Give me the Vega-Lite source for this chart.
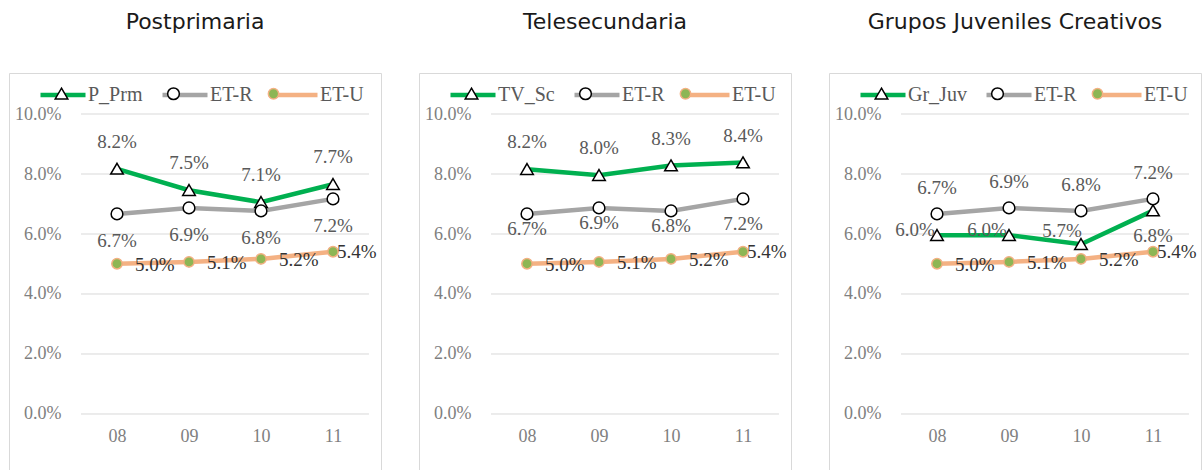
{
  "$schema": "https://vega.github.io/schema/vega-lite/v6.json",
  "background": "white",
  "padding": {"left": 8, "top": 10, "right": 0, "bottom": 0},
  "spacing": 36,
  "config": {
    "view": {"stroke": "#d9d9d9", "strokeWidth": 1},
    "font": "Liberation Serif",
    "title": {"font": "DejaVu Sans", "fontSize": 22, "fontWeight": "normal", "color": "#1a1a1a", "anchor": "middle", "frame": "group", "offset": 36},
    "axis": {"labelFont": "Liberation Serif", "labelFontSize": 18, "labelColor": "#7f7f7f", "grid": false, "domain": false, "ticks": false, "tickSize": 0}
  },
  "datasets": {
    "grid": [{"v": 0}, {"v": 0.02}, {"v": 0.04}, {"v": 0.06}, {"v": 0.08}, {"v": 0.1}],
    "d": [
      {"p": "P", "s": "P_Prm", "f": "P_Prm", "k": "A", "x": 8, "v": 0.0817},
      {"p": "P", "s": "P_Prm", "f": "P_Prm", "k": "A", "x": 9, "v": 0.0746},
      {"p": "P", "s": "P_Prm", "f": "P_Prm", "k": "A", "x": 10, "v": 0.0706},
      {"p": "P", "s": "P_Prm", "f": "P_Prm", "k": "A", "x": 11, "v": 0.0766},
      {"p": "P", "s": "ET-R", "f": "ET-R", "k": "B", "x": 8, "v": 0.0667},
      {"p": "P", "s": "ET-R", "f": "ET-R", "k": "B", "x": 9, "v": 0.0687},
      {"p": "P", "s": "ET-R", "f": "ET-R", "k": "B", "x": 10, "v": 0.0677},
      {"p": "P", "s": "ET-R", "f": "ET-R", "k": "B", "x": 11, "v": 0.0717},
      {"p": "P", "s": "ET-U", "f": "ET-U", "k": "C", "x": 8, "v": 0.0501},
      {"p": "P", "s": "ET-U", "f": "ET-U", "k": "C", "x": 9, "v": 0.0507},
      {"p": "P", "s": "ET-U", "f": "ET-U", "k": "C", "x": 10, "v": 0.0517},
      {"p": "P", "s": "ET-U", "f": "ET-U", "k": "C", "x": 11, "v": 0.0541},
      {"p": "T", "s": "TV_Sc", "f": "TV_Sc", "k": "A", "x": 8, "v": 0.0816},
      {"p": "T", "s": "TV_Sc", "f": "TV_Sc", "k": "A", "x": 9, "v": 0.0796},
      {"p": "T", "s": "TV_Sc", "f": "TV_Sc", "k": "A", "x": 10, "v": 0.0828},
      {"p": "T", "s": "TV_Sc", "f": "TV_Sc", "k": "A", "x": 11, "v": 0.0838},
      {"p": "T", "s": "ET-R", "f": "ET-R", "k": "B", "x": 8, "v": 0.0667},
      {"p": "T", "s": "ET-R", "f": "ET-R", "k": "B", "x": 9, "v": 0.0687},
      {"p": "T", "s": "ET-R", "f": "ET-R", "k": "B", "x": 10, "v": 0.0677},
      {"p": "T", "s": "ET-R", "f": "ET-R", "k": "B", "x": 11, "v": 0.0717},
      {"p": "T", "s": "ET-U", "f": "ET-U", "k": "C", "x": 8, "v": 0.0501},
      {"p": "T", "s": "ET-U", "f": "ET-U", "k": "C", "x": 9, "v": 0.0507},
      {"p": "T", "s": "ET-U", "f": "ET-U", "k": "C", "x": 10, "v": 0.0517},
      {"p": "T", "s": "ET-U", "f": "ET-U", "k": "C", "x": 11, "v": 0.0541},
      {"p": "G", "s": "Gr_Juv", "f": "Gr_Juv", "k": "A", "x": 8, "v": 0.0596},
      {"p": "G", "s": "Gr_Juv", "f": "Gr_Juv", "k": "A", "x": 9, "v": 0.0596},
      {"p": "G", "s": "Gr_Juv", "f": "Gr_Juv", "k": "A", "x": 10, "v": 0.0566},
      {"p": "G", "s": "Gr_Juv", "f": "Gr_Juv", "k": "A", "x": 11, "v": 0.0678},
      {"p": "G", "s": "ET-R", "f": "ET-R", "k": "B", "x": 8, "v": 0.0667},
      {"p": "G", "s": "ET-R", "f": "ET-R", "k": "B", "x": 9, "v": 0.0687},
      {"p": "G", "s": "ET-R", "f": "ET-R", "k": "B", "x": 10, "v": 0.0677},
      {"p": "G", "s": "ET-R", "f": "ET-R", "k": "B", "x": 11, "v": 0.0717},
      {"p": "G", "s": "ET-U", "f": "ET-U", "k": "C", "x": 8, "v": 0.0501},
      {"p": "G", "s": "ET-U", "f": "ET-U", "k": "C", "x": 9, "v": 0.0507},
      {"p": "G", "s": "ET-U", "f": "ET-U", "k": "C", "x": 10, "v": 0.0517},
      {"p": "G", "s": "ET-U", "f": "ET-U", "k": "C", "x": 11, "v": 0.0541}
    ]
  },
  "resolve": {
    "scale": {"x": "independent", "y": "independent", "color": "independent", "fill": "independent", "stroke": "independent", "shape": "independent"},
    "legend": {"color": "independent", "shape": "independent", "fill": "independent"}
  },
  "hconcat": [
    {
      "title": "Postprimaria",
      "width": 372, "height": 397,
      "layer": [
        {"data": {"name": "grid"}, "mark": {"type": "rule", "color": "#d9d9d9", "strokeWidth": 1},
         "encoding": {"y": {"field": "v", "type": "quantitative", "scale": {"domain": [-0.018667, 0.113667], "nice": false, "zero": false}, "axis": {"title": null, "values": [0, 0.02, 0.04, 0.06, 0.08, 0.1], "format": ".1%", "offset": -52, "labelPadding": 0}},
                      "x": {"datum": 7.5, "type": "quantitative", "scale": {"domain": [6.5, 11.6667], "nice": false, "zero": false}, "axis": {"title": null, "values": [8, 9, 10, 11], "labelExpr": "datum.value < 10 ? '0' + datum.value : '' + datum.value", "orient": "bottom", "offset": -56, "labelPadding": 13}},
                      "x2": {"datum": 11.5}}},
        {"data": {"name": "d"}, "transform": [{"filter": "datum.p == 'P'"}], "mark": {"type": "line", "strokeWidth": 4.5},
         "encoding": {"x": {"field": "x", "type": "quantitative"}, "y": {"field": "v", "type": "quantitative"},
           "color": {"field": "s", "type": "nominal", "sort": ["P_Prm", "ET-R", "ET-U"], "scale": {"range": ["#00b050", "#a5a5a5", "#f4b183"]},
           "legend": {"orient": "none", "legendX": 29, "legendY": -3, "direction": "horizontal", "title": null, "symbolType": "stroke", "symbolSize": 2025, "symbolStrokeWidth": 1.5, "labelOffset": 0, "columnPadding": 10, "padding": 0, "labelFont": "Liberation Serif", "labelFontSize": 20, "labelColor": "#595959", "encode": {"symbols": {"update": {"strokeWidth": {"value": 4.5}}}}}}}},
        {"data": {"name": "d"}, "transform": [{"filter": "datum.p == 'P'"}], "mark": {"type": "point", "filled": true, "opacity": 1, "size": 2025, "strokeWidth": 1.5, "fill": "white", "stroke": "black"},
         "encoding": {"x": {"field": "x", "type": "quantitative"}, "y": {"field": "v", "type": "quantitative"},
           "shape": {"field": "s", "type": "nominal", "sort": ["P_Prm", "ET-R", "ET-U"], "scale": {"range": ["M0,-0.25L0.28,0.23L-0.28,0.23Z", "M-0.26,0A0.26,0.26,0,1,0,0.26,0A0.26,0.26,0,1,0,-0.26,0Z", "M-0.2,0A0.2,0.2,0,1,0,0.2,0A0.2,0.2,0,1,0,-0.2,0Z"]},
             "legend": {"orient": "none", "legendX": 29, "legendY": -3, "direction": "horizontal", "title": null, "symbolSize": 2025, "symbolStrokeWidth": 1.5, "symbolOpacity": 1, "labelOffset": 0, "columnPadding": 10, "padding": 0, "labelFont": "Liberation Serif", "labelFontSize": 20, "labelOpacity": 0}}
         }},
        {"data": {"name": "d"}, "transform": [{"filter": "datum.p == 'P'"}], "mark": {"type": "point", "filled": true, "opacity": 1, "size": 2025, "strokeWidth": 1.5, "shape": "M-0.23,0A0.23,0.23,0,1,0,0.23,0A0.23,0.23,0,1,0,-0.23,0Z"},
         "encoding": {"x": {"field": "x", "type": "quantitative"}, "y": {"field": "v", "type": "quantitative"},
           "fill": {"field": "f", "type": "nominal", "scale": {"domain": ["P_Prm", "ET-R", "ET-U"], "range": ["transparent", "transparent", "#8db654"]},
             "legend": {"orient": "none", "legendX": 29, "legendY": -3, "direction": "horizontal", "title": null, "symbolType": "M-0.23,0A0.23,0.23,0,1,0,0.23,0A0.23,0.23,0,1,0,-0.23,0Z", "symbolSize": 2025, "symbolStrokeWidth": 1.5, "symbolStrokeColor": "transparent", "symbolOpacity": 1, "labelOffset": 0, "columnPadding": 10, "padding": 0, "labelFont": "Liberation Serif", "labelFontSize": 20, "labelOpacity": 0,
               "encode": {"symbols": {"update": {"stroke": {"signal": "datum.value == 'ET-U' ? '#f4b183' : 'transparent'"}}}}}},
           "stroke": {"field": "f", "type": "nominal", "scale": {"domain": ["P_Prm", "ET-R", "ET-U"], "range": ["transparent", "transparent", "#f4b183"]}, "legend": null}
         }},
        {"data": {"name": "d"}, "transform": [{"filter": "datum.p == 'P' && datum.k == 'A'"}], "mark": {"type": "text", "dy": -27, "fontSize": 19, "font": "Liberation Serif", "color": "#595959"}, "encoding": {"x": {"field": "x", "type": "quantitative"}, "y": {"field": "v", "type": "quantitative"}, "text": {"field": "v", "format": ".1%"}}},
        {"data": {"name": "d"}, "transform": [{"filter": "datum.p == 'P' && datum.k == 'B'"}], "mark": {"type": "text", "dy": 27, "fontSize": 19, "font": "Liberation Serif", "color": "#595959"}, "encoding": {"x": {"field": "x", "type": "quantitative"}, "y": {"field": "v", "type": "quantitative"}, "text": {"field": "v", "format": ".1%"}}},
        {"data": {"name": "d"}, "transform": [{"filter": "datum.p == 'P' && datum.k == 'C' && datum.x < 11"}], "mark": {"type": "text", "align": "left", "dx": 18, "dy": 1, "fontSize": 19, "font": "Liberation Serif", "color": "#333333"}, "encoding": {"x": {"field": "x", "type": "quantitative"}, "y": {"field": "v", "type": "quantitative"}, "text": {"field": "v", "format": ".1%"}}},
        {"data": {"name": "d"}, "transform": [{"filter": "datum.p == 'P' && datum.k == 'C' && datum.x == 11"}], "mark": {"type": "text", "align": "left", "dx": 4, "dy": 0, "fontSize": 19, "font": "Liberation Serif", "color": "#333333"}, "encoding": {"x": {"field": "x", "type": "quantitative"}, "y": {"field": "v", "type": "quantitative"}, "text": {"field": "v", "format": ".1%"}}}
      ]
    },
    {
      "title": "Telesecundaria",
      "width": 372, "height": 397,
      "layer": [
        {"data": {"name": "grid"}, "mark": {"type": "rule", "color": "#d9d9d9", "strokeWidth": 1},
         "encoding": {"y": {"field": "v", "type": "quantitative", "scale": {"domain": [-0.018667, 0.113667], "nice": false, "zero": false}, "axis": {"title": null, "values": [0, 0.02, 0.04, 0.06, 0.08, 0.1], "format": ".1%", "offset": -52, "labelPadding": 0}},
                      "x": {"datum": 7.5, "type": "quantitative", "scale": {"domain": [6.5, 11.6667], "nice": false, "zero": false}, "axis": {"title": null, "values": [8, 9, 10, 11], "labelExpr": "datum.value < 10 ? '0' + datum.value : '' + datum.value", "orient": "bottom", "offset": -56, "labelPadding": 13}},
                      "x2": {"datum": 11.5}}},
        {"data": {"name": "d"}, "transform": [{"filter": "datum.p == 'T'"}], "mark": {"type": "line", "strokeWidth": 4.5},
         "encoding": {"x": {"field": "x", "type": "quantitative"}, "y": {"field": "v", "type": "quantitative"},
           "color": {"field": "s", "type": "nominal", "sort": ["TV_Sc", "ET-R", "ET-U"], "scale": {"range": ["#00b050", "#a5a5a5", "#f4b183"]},
           "legend": {"orient": "none", "legendX": 29, "legendY": -3, "direction": "horizontal", "title": null, "symbolType": "stroke", "symbolSize": 2025, "symbolStrokeWidth": 1.5, "labelOffset": 0, "columnPadding": 10, "padding": 0, "labelFont": "Liberation Serif", "labelFontSize": 20, "labelColor": "#595959", "encode": {"symbols": {"update": {"strokeWidth": {"value": 4.5}}}}}}}},
        {"data": {"name": "d"}, "transform": [{"filter": "datum.p == 'T'"}], "mark": {"type": "point", "filled": true, "opacity": 1, "size": 2025, "strokeWidth": 1.5, "fill": "white", "stroke": "black"},
         "encoding": {"x": {"field": "x", "type": "quantitative"}, "y": {"field": "v", "type": "quantitative"},
           "shape": {"field": "s", "type": "nominal", "sort": ["TV_Sc", "ET-R", "ET-U"], "scale": {"range": ["M0,-0.25L0.28,0.23L-0.28,0.23Z", "M-0.26,0A0.26,0.26,0,1,0,0.26,0A0.26,0.26,0,1,0,-0.26,0Z", "M-0.2,0A0.2,0.2,0,1,0,0.2,0A0.2,0.2,0,1,0,-0.2,0Z"]},
             "legend": {"orient": "none", "legendX": 29, "legendY": -3, "direction": "horizontal", "title": null, "symbolSize": 2025, "symbolStrokeWidth": 1.5, "symbolOpacity": 1, "labelOffset": 0, "columnPadding": 10, "padding": 0, "labelFont": "Liberation Serif", "labelFontSize": 20, "labelOpacity": 0}}
         }},
        {"data": {"name": "d"}, "transform": [{"filter": "datum.p == 'T'"}], "mark": {"type": "point", "filled": true, "opacity": 1, "size": 2025, "strokeWidth": 1.5, "shape": "M-0.23,0A0.23,0.23,0,1,0,0.23,0A0.23,0.23,0,1,0,-0.23,0Z"},
         "encoding": {"x": {"field": "x", "type": "quantitative"}, "y": {"field": "v", "type": "quantitative"},
           "fill": {"field": "f", "type": "nominal", "scale": {"domain": ["TV_Sc", "ET-R", "ET-U"], "range": ["transparent", "transparent", "#8db654"]},
             "legend": {"orient": "none", "legendX": 29, "legendY": -3, "direction": "horizontal", "title": null, "symbolType": "M-0.23,0A0.23,0.23,0,1,0,0.23,0A0.23,0.23,0,1,0,-0.23,0Z", "symbolSize": 2025, "symbolStrokeWidth": 1.5, "symbolStrokeColor": "transparent", "symbolOpacity": 1, "labelOffset": 0, "columnPadding": 10, "padding": 0, "labelFont": "Liberation Serif", "labelFontSize": 20, "labelOpacity": 0,
               "encode": {"symbols": {"update": {"stroke": {"signal": "datum.value == 'ET-U' ? '#f4b183' : 'transparent'"}}}}}},
           "stroke": {"field": "f", "type": "nominal", "scale": {"domain": ["TV_Sc", "ET-R", "ET-U"], "range": ["transparent", "transparent", "#f4b183"]}, "legend": null}
         }},
        {"data": {"name": "d"}, "transform": [{"filter": "datum.p == 'T' && datum.k == 'A'"}], "mark": {"type": "text", "dy": -27, "fontSize": 19, "font": "Liberation Serif", "color": "#595959"}, "encoding": {"x": {"field": "x", "type": "quantitative"}, "y": {"field": "v", "type": "quantitative"}, "text": {"field": "v", "format": ".1%"}}},
        {"data": {"name": "d"}, "transform": [{"filter": "datum.p == 'T' && datum.k == 'B' && datum.x < 11"}], "mark": {"type": "text", "dy": 15, "fontSize": 19, "font": "Liberation Serif", "color": "#595959"}, "encoding": {"x": {"field": "x", "type": "quantitative"}, "y": {"field": "v", "type": "quantitative"}, "text": {"field": "v", "format": ".1%"}}},
        {"data": {"name": "d"}, "transform": [{"filter": "datum.p == 'T' && datum.k == 'B' && datum.x == 11"}], "mark": {"type": "text", "dy": 25, "fontSize": 19, "font": "Liberation Serif", "color": "#595959"}, "encoding": {"x": {"field": "x", "type": "quantitative"}, "y": {"field": "v", "type": "quantitative"}, "text": {"field": "v", "format": ".1%"}}},
        {"data": {"name": "d"}, "transform": [{"filter": "datum.p == 'T' && datum.k == 'C' && datum.x < 11"}], "mark": {"type": "text", "align": "left", "dx": 18, "dy": 1, "fontSize": 19, "font": "Liberation Serif", "color": "#333333"}, "encoding": {"x": {"field": "x", "type": "quantitative"}, "y": {"field": "v", "type": "quantitative"}, "text": {"field": "v", "format": ".1%"}}},
        {"data": {"name": "d"}, "transform": [{"filter": "datum.p == 'T' && datum.k == 'C' && datum.x == 11"}], "mark": {"type": "text", "align": "left", "dx": 4, "dy": 0, "fontSize": 19, "font": "Liberation Serif", "color": "#333333"}, "encoding": {"x": {"field": "x", "type": "quantitative"}, "y": {"field": "v", "type": "quantitative"}, "text": {"field": "v", "format": ".1%"}}}
      ]
    },
    {
      "title": "Grupos Juveniles Creativos",
      "width": 372, "height": 397,
      "layer": [
        {"data": {"name": "grid"}, "mark": {"type": "rule", "color": "#d9d9d9", "strokeWidth": 1},
         "encoding": {"y": {"field": "v", "type": "quantitative", "scale": {"domain": [-0.018667, 0.113667], "nice": false, "zero": false}, "axis": {"title": null, "values": [0, 0.02, 0.04, 0.06, 0.08, 0.1], "format": ".1%", "offset": -52, "labelPadding": 0}},
                      "x": {"datum": 7.5, "type": "quantitative", "scale": {"domain": [6.5, 11.6667], "nice": false, "zero": false}, "axis": {"title": null, "values": [8, 9, 10, 11], "labelExpr": "datum.value < 10 ? '0' + datum.value : '' + datum.value", "orient": "bottom", "offset": -56, "labelPadding": 13}},
                      "x2": {"datum": 11.5}}},
        {"data": {"name": "d"}, "transform": [{"filter": "datum.p == 'G'"}], "mark": {"type": "line", "strokeWidth": 4.5},
         "encoding": {"x": {"field": "x", "type": "quantitative"}, "y": {"field": "v", "type": "quantitative"},
           "color": {"field": "s", "type": "nominal", "sort": ["Gr_Juv", "ET-R", "ET-U"], "scale": {"range": ["#00b050", "#a5a5a5", "#f4b183"]},
           "legend": {"orient": "none", "legendX": 29, "legendY": -3, "direction": "horizontal", "title": null, "symbolType": "stroke", "symbolSize": 2025, "symbolStrokeWidth": 1.5, "labelOffset": 0, "columnPadding": 10, "padding": 0, "labelFont": "Liberation Serif", "labelFontSize": 20, "labelColor": "#595959", "encode": {"symbols": {"update": {"strokeWidth": {"value": 4.5}}}}}}}},
        {"data": {"name": "d"}, "transform": [{"filter": "datum.p == 'G'"}], "mark": {"type": "point", "filled": true, "opacity": 1, "size": 2025, "strokeWidth": 1.5, "fill": "white", "stroke": "black"},
         "encoding": {"x": {"field": "x", "type": "quantitative"}, "y": {"field": "v", "type": "quantitative"},
           "shape": {"field": "s", "type": "nominal", "sort": ["Gr_Juv", "ET-R", "ET-U"], "scale": {"range": ["M0,-0.25L0.28,0.23L-0.28,0.23Z", "M-0.26,0A0.26,0.26,0,1,0,0.26,0A0.26,0.26,0,1,0,-0.26,0Z", "M-0.2,0A0.2,0.2,0,1,0,0.2,0A0.2,0.2,0,1,0,-0.2,0Z"]},
             "legend": {"orient": "none", "legendX": 29, "legendY": -3, "direction": "horizontal", "title": null, "symbolSize": 2025, "symbolStrokeWidth": 1.5, "symbolOpacity": 1, "labelOffset": 0, "columnPadding": 10, "padding": 0, "labelFont": "Liberation Serif", "labelFontSize": 20, "labelOpacity": 0}}
         }},
        {"data": {"name": "d"}, "transform": [{"filter": "datum.p == 'G'"}], "mark": {"type": "point", "filled": true, "opacity": 1, "size": 2025, "strokeWidth": 1.5, "shape": "M-0.23,0A0.23,0.23,0,1,0,0.23,0A0.23,0.23,0,1,0,-0.23,0Z"},
         "encoding": {"x": {"field": "x", "type": "quantitative"}, "y": {"field": "v", "type": "quantitative"},
           "fill": {"field": "f", "type": "nominal", "scale": {"domain": ["Gr_Juv", "ET-R", "ET-U"], "range": ["transparent", "transparent", "#8db654"]},
             "legend": {"orient": "none", "legendX": 29, "legendY": -3, "direction": "horizontal", "title": null, "symbolType": "M-0.23,0A0.23,0.23,0,1,0,0.23,0A0.23,0.23,0,1,0,-0.23,0Z", "symbolSize": 2025, "symbolStrokeWidth": 1.5, "symbolStrokeColor": "transparent", "symbolOpacity": 1, "labelOffset": 0, "columnPadding": 10, "padding": 0, "labelFont": "Liberation Serif", "labelFontSize": 20, "labelOpacity": 0,
               "encode": {"symbols": {"update": {"stroke": {"signal": "datum.value == 'ET-U' ? '#f4b183' : 'transparent'"}}}}}},
           "stroke": {"field": "f", "type": "nominal", "scale": {"domain": ["Gr_Juv", "ET-R", "ET-U"], "range": ["transparent", "transparent", "#f4b183"]}, "legend": null}
         }},
        {"data": {"name": "d"}, "transform": [{"filter": "datum.p == 'G' && datum.k == 'A' && datum.x < 10"}], "mark": {"type": "text", "dx": -22, "dy": -5, "fontSize": 19, "font": "Liberation Serif", "color": "#595959"}, "encoding": {"x": {"field": "x", "type": "quantitative"}, "y": {"field": "v", "type": "quantitative"}, "text": {"field": "v", "format": ".1%"}}},
        {"data": {"name": "d"}, "transform": [{"filter": "datum.p == 'G' && datum.k == 'A' && datum.x == 10"}], "mark": {"type": "text", "dx": -19, "dy": -13, "fontSize": 19, "font": "Liberation Serif", "color": "#595959"}, "encoding": {"x": {"field": "x", "type": "quantitative"}, "y": {"field": "v", "type": "quantitative"}, "text": {"field": "v", "format": ".1%"}}},
        {"data": {"name": "d"}, "transform": [{"filter": "datum.p == 'G' && datum.k == 'A' && datum.x == 11"}], "mark": {"type": "text", "dy": 25, "fontSize": 19, "font": "Liberation Serif", "color": "#595959"}, "encoding": {"x": {"field": "x", "type": "quantitative"}, "y": {"field": "v", "type": "quantitative"}, "text": {"field": "v", "format": ".1%"}}},
        {"data": {"name": "d"}, "transform": [{"filter": "datum.p == 'G' && datum.k == 'B'"}], "mark": {"type": "text", "dy": -26, "fontSize": 19, "font": "Liberation Serif", "color": "#595959"}, "encoding": {"x": {"field": "x", "type": "quantitative"}, "y": {"field": "v", "type": "quantitative"}, "text": {"field": "v", "format": ".1%"}}},
        {"data": {"name": "d"}, "transform": [{"filter": "datum.p == 'G' && datum.k == 'C' && datum.x < 11"}], "mark": {"type": "text", "align": "left", "dx": 18, "dy": 1, "fontSize": 19, "font": "Liberation Serif", "color": "#333333"}, "encoding": {"x": {"field": "x", "type": "quantitative"}, "y": {"field": "v", "type": "quantitative"}, "text": {"field": "v", "format": ".1%"}}},
        {"data": {"name": "d"}, "transform": [{"filter": "datum.p == 'G' && datum.k == 'C' && datum.x == 11"}], "mark": {"type": "text", "align": "left", "dx": 4, "dy": 0, "fontSize": 19, "font": "Liberation Serif", "color": "#333333"}, "encoding": {"x": {"field": "x", "type": "quantitative"}, "y": {"field": "v", "type": "quantitative"}, "text": {"field": "v", "format": ".1%"}}}
      ]
    }
  ]
}
